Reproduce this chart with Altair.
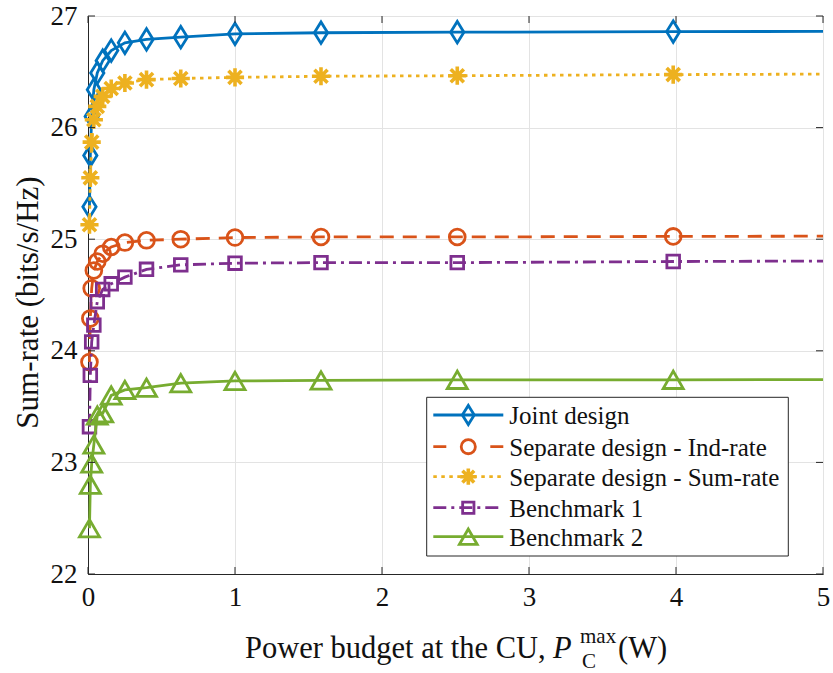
import altair as alt
import pandas as pd

# Power budget at the CU (W), log-spaced sweep; the last point lies past the axis end
power_w = [0.01, 0.0158, 0.0251, 0.0398, 0.0631, 0.1, 0.158, 0.251, 0.398,
           0.631, 1.0, 1.585, 2.512, 3.981, 6.310]

# Sum-rate (bits/s/Hz) for each scheme
joint = [25.29, 25.75, 26.10, 26.34, 26.49, 26.60, 26.69, 26.76, 26.79,
         26.81, 26.84, 26.85, 26.855, 26.86, 26.865]
sep_ind = [23.90, 24.29, 24.56, 24.72, 24.80, 24.87, 24.93, 24.97, 24.99,
           25.00, 25.015, 25.02, 25.02, 25.025, 25.03]
sep_sum = [25.13, 25.55, 25.87, 26.07, 26.19, 26.28, 26.35, 26.40, 26.43,
           26.44, 26.45, 26.46, 26.465, 26.475, 26.485]
bench1 = [23.32, 23.78, 24.08, 24.23, 24.44, 24.55, 24.60, 24.66, 24.73,
          24.77, 24.785, 24.79, 24.79, 24.80, 24.81]
bench2 = [22.41, 22.80, 22.99, 23.16, 23.42, 23.44, 23.60, 23.65, 23.67,
          23.71, 23.73, 23.735, 23.74, 23.74, 23.745]

series_names = ["Joint design", "Separate design - Ind-rate",
                "Separate design - Sum-rate", "Benchmark 1", "Benchmark 2"]
series_values = [joint, sep_ind, sep_sum, bench1, bench2]

x_ticks = [0, 1, 2, 3, 4, 5]
y_ticks = [22, 23, 24, 25, 26, 27]

W, H = 735, 558
FONT = "Liberation Serif"
INK = "#262626"
TXT = "#111111"

DIAMOND = "M-0.62,0L0,-1L0.62,0L0,1Z"
ASTERISK = ("M-1,0L1,0M0,-1L0,1M-0.72,-0.72L0.72,0.72"
            "M-0.72,0.72L0.72,-0.72")

styles = [
    dict(color="#0072BD", dash=None, legend_dash=None, shape=DIAMOND, size=460, sw=2.8),
    dict(color="#D95319", dash=[14, 9], legend_dash=[13, 44], shape="circle", size=250, sw=2.8),
    dict(color="#EDB120", dash=[3.5, 4.5], legend_dash=[3.5, 4.5], shape=ASTERISK, size=330, sw=3.6),
    dict(color="#7E2F8E", dash=[13, 5, 3, 5], legend_dash=[13, 5, 3, 5], shape="square", size=160, sw=2.8),
    dict(color="#77AC30", dash=None, legend_dash=None, shape="triangle-up", size=400, sw=2.8),
]

x_scale = alt.Scale(domain=[0, 5], nice=False, zero=False)
y_scale = alt.Scale(domain=[22, 27], nice=False, zero=False)
x_axis = alt.Axis(values=x_ticks, format="d", title=None, grid=True,
                  labelFlush=False, labelPadding=10, ticks=False,
                  labelFont=FONT, labelFontSize=27, labelColor=TXT)
y_axis = alt.Axis(values=y_ticks, format="d", title=None, grid=True,
                  labelPadding=11, ticks=False,
                  labelFont=FONT, labelFontSize=27, labelColor=TXT)

layers = []

# data curves: line clipped to the box, hollow markers on top
for name, vals, st in zip(series_names, series_values, styles):
    df = pd.DataFrame({"power": power_w, "rate": vals, "scheme": name})
    line_kw = dict(color=st["color"], strokeWidth=2.8, clip=True)
    if st["dash"]:
        line_kw["strokeDash"] = st["dash"]
    enc = dict(x=alt.X("power:Q", scale=x_scale, axis=x_axis),
               y=alt.Y("rate:Q", scale=y_scale, axis=y_axis))
    layers.append(alt.Chart(df).mark_line(**line_kw).encode(**enc))
    layers.append(
        alt.Chart(df).transform_filter(alt.datum.power <= 5)
        .mark_point(shape=st["shape"], size=st["size"], filled=False,
                    stroke=st["color"], strokeWidth=st["sw"], opacity=1)
        .encode(**enc)
    )

# inward tick marks on all four sides of the box
xt = pd.DataFrame({"v": x_ticks})
yt = pd.DataFrame({"v": y_ticks})
tick_kw = dict(color=INK, strokeWidth=1)
layers += [
    alt.Chart(xt).mark_rule(**tick_kw).encode(
        x=alt.X("v:Q", scale=x_scale, axis=x_axis), y=alt.value(H), y2=alt.value(H - 7)),
    alt.Chart(xt).mark_rule(**tick_kw).encode(
        x=alt.X("v:Q", scale=x_scale, axis=x_axis), y=alt.value(0), y2=alt.value(7)),
    alt.Chart(yt).mark_rule(**tick_kw).encode(
        y=alt.Y("v:Q", scale=y_scale, axis=y_axis), x=alt.value(0), x2=alt.value(7)),
    alt.Chart(yt).mark_rule(**tick_kw).encode(
        y=alt.Y("v:Q", scale=y_scale, axis=y_axis), x=alt.value(W), x2=alt.value(W - 7)),
]

# legend box
one = pd.DataFrame({"k": [0]})
LX0, LX1, LY0, LY1 = 338.7, 700.3, 381.3, 540
layers.append(
    alt.Chart(one).mark_rect(fill="white", stroke=INK, strokeWidth=1).encode(
        x=alt.value(LX0), x2=alt.value(LX1), y=alt.value(LY0), y2=alt.value(LY1))
)
row_y = [399, 430.7, 460.7, 491.7, 520.7]
for name, st, ry in zip(series_names, styles, row_y):
    rule_kw = dict(color=st["color"], strokeWidth=2.8)
    if st["legend_dash"]:
        rule_kw["strokeDash"] = st["legend_dash"]
    layers.append(
        alt.Chart(one).mark_rule(**rule_kw).encode(
            x=alt.value(345.3), x2=alt.value(415.3), y=alt.value(ry))
    )
    layers.append(
        alt.Chart(one).mark_point(shape=st["shape"], size=st["size"] * 0.8,
                                  filled=False, stroke=st["color"],
                                  strokeWidth=st["sw"], opacity=1).encode(
            x=alt.value(380.3), y=alt.value(ry))
    )
    layers.append(
        alt.Chart(one).mark_text(text=name, font=FONT, fontSize=25, color=TXT,
                                 align="left", baseline="middle").encode(
            x=alt.value(421.3), y=alt.value(ry + 1))
    )

# axis titles
layers.append(
    alt.Chart(one).mark_text(text="Sum-rate (bits/s/Hz)", font=FONT, fontSize=31,
                             color=TXT, angle=270, align="center",
                             baseline="middle").encode(
        x=alt.value(-59.5), y=alt.value(286.5))
)
title_parts = [
    ("Power budget at the CU,", 157, 642, 30.5, "normal"),
    ("P", 465, 642, 30.5, "italic"),
    ("max", 492, 627, 21, "normal"),
    ("C", 494, 652, 21, "normal"),
    ("(W)", 530, 642, 30.5, "normal"),
]
for txt, tx, ty, fs, style in title_parts:
    layers.append(
        alt.Chart(one).mark_text(text=txt, font=FONT, fontSize=fs, fontStyle=style,
                                 color=TXT, align="left",
                                 baseline="alphabetic").encode(
            x=alt.value(tx), y=alt.value(ty))
    )

chart = (
    alt.layer(*layers)
    .properties(width=W, height=H,
                padding={"left": 88, "top": 16, "right": 10, "bottom": 99},
                autosize=alt.AutoSizeParams(type="none"))
    .configure_view(stroke=INK, strokeWidth=1)
    .configure_axis(labelFont=FONT, labelFontSize=27, labelColor=TXT,
                    domainColor=INK, domainWidth=1, gridColor="#E3E3E3",
                    gridWidth=1, labelOverlap=False)
)

chart.save("out.html", embed_options={"renderer": "svg", "actions": False})
